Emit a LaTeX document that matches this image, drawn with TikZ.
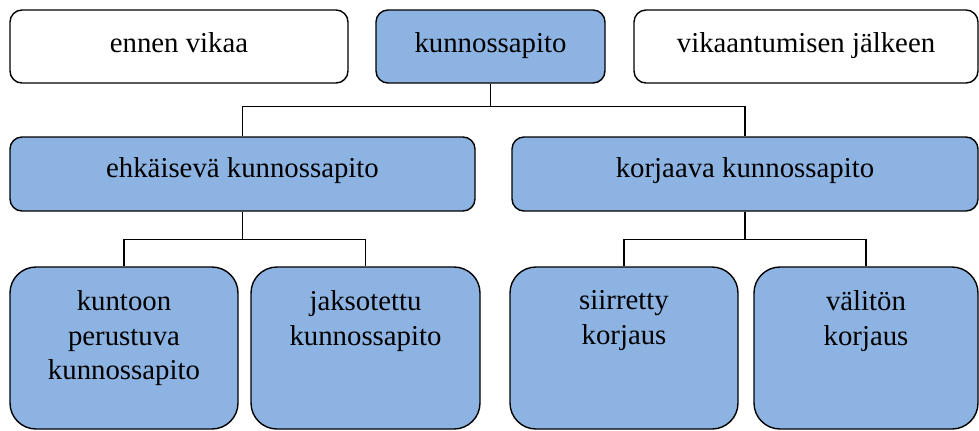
\documentclass[tikz,border=0pt]{standalone}
\usepackage{fontspec}
\setmainfont{LiberationSerif}[Extension=.ttf, UprightFont=*-Regular, BoldFont=*-Bold]
\usetikzlibrary{positioning}
\definecolor{boxblue}{HTML}{8DB3E2}
\begin{document}
\begin{tikzpicture}[
    x=0.5pt, y=-0.5pt,
    font=\rmfamily\fontsize{14.4}{17.2}\selectfont,
    top/.style={draw, line width=0.7pt, rounded corners=6pt, align=center, minimum height=36.5pt, inner sep=0pt, text height=10pt, text depth=4.5pt},
    mid/.style={draw, line width=0.7pt, rounded corners=6pt, fill=boxblue, align=center, minimum height=37pt, inner sep=0pt, text height=10pt, text depth=7pt},
    leaf/.style={draw, line width=0.7pt, rounded corners=13pt, fill=boxblue, minimum height=81pt, inner sep=0pt},
    leaftext/.style={anchor=north, align=center, inner sep=0pt},
    conn/.style={line width=0.7pt}
]
\useasboundingbox (0,0) rectangle (979,430);

\node[top, minimum width=169pt] (before) at (179,46.5) {ennen vikaa};
\node[top, minimum width=114.5pt, fill=boxblue] (maint) at (490.5,46.5) {kunnossapito};
\node[top, minimum width=172pt] (after) at (806,46.5) {vikaantumisen jälkeen};

\node[mid, minimum width=232.5pt] (prev) at (242.5,174) {ehkäisevä kunnossapito};
\node[mid, minimum width=233pt] (corr) at (745,174) {korjaava kunnossapito};

\node[leaf, minimum width=114pt] (cbm) at (124,348) {};
\node[leaf, minimum width=114.5pt] (per) at (365.5,348) {};
\node[leaf, minimum width=114pt] (def) at (624,348) {};
\node[leaf, minimum width=112pt] (imm) at (866,348) {};

\node[leaftext] (cbmt) at ([yshift=-12pt]cbm.north) {kuntoon\\perustuva\\kunnossapito};
\node[leaftext] (pert) at ([yshift=-12pt]per.north) {jaksotettu\\kunnossapito};
\node[leaftext] (deft) at ([yshift=-12pt]def.north) {siirretty\\korjaus};
\node[leaftext] (immt) at ([yshift=-12pt]imm.north) {välitön\\korjaus};

\draw[conn] (maint.south) -- ++(0,23) -| (prev.north);
\draw[conn] (maint.south) -- ++(0,23) -| (corr.north);
\draw[conn] (prev.south) -- ++(0,28) -| (cbm.north);
\draw[conn] (prev.south) -- ++(0,28) -| (per.north);
\draw[conn] (corr.south) -- ++(0,28) -| (def.north);
\draw[conn] (corr.south) -- ++(0,28) -| (imm.north);
\end{tikzpicture}
\end{document}
